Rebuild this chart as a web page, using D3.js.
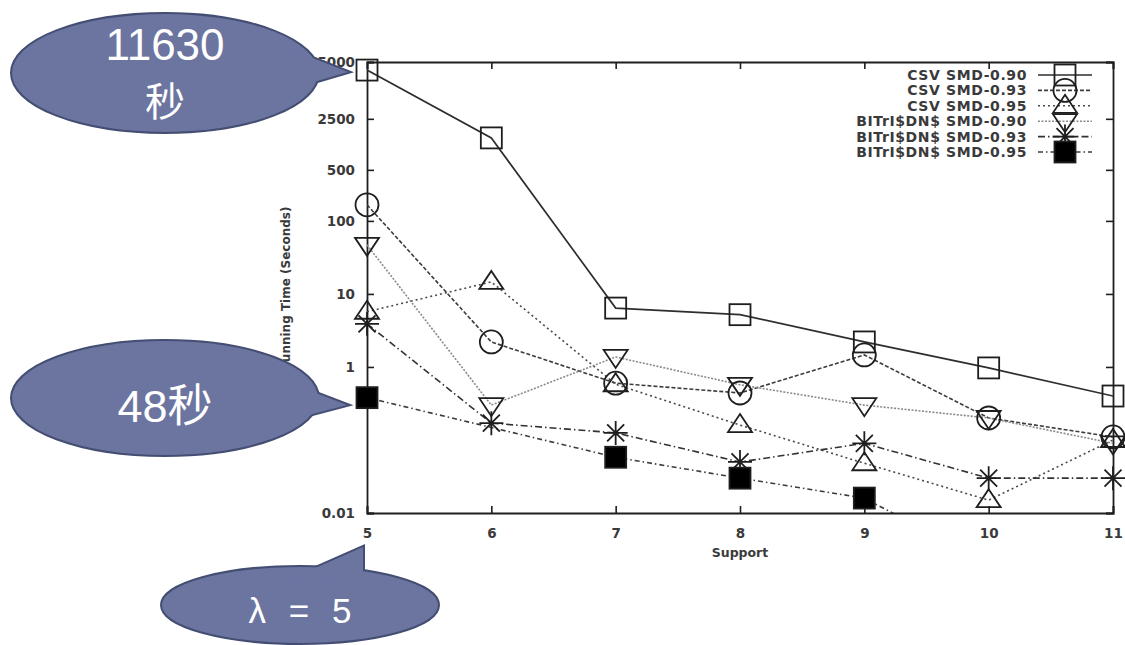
<!DOCTYPE html>
<html>
<head>
<meta charset="utf-8">
<script src="https://cdn.jsdelivr.net/npm/d3@7/dist/d3.min.js"></script>
<style>
  html, body { margin: 0; padding: 0; background: #fff; }
  svg { display: block; }
  .tick-label { font-family: "DejaVu Sans", sans-serif; font-weight: bold; font-size: 13.5px; fill: #3a3a3a; }
  .legend-label { font-family: "DejaVu Sans", sans-serif; font-weight: bold; font-size: 14px; fill: #3a3a3a; }
  .callout-text { font-family: "Liberation Sans", "Noto Sans CJK SC", sans-serif; fill: #fff; }
</style>
</head>
<body>
<svg id="chart" width="1125" height="645"></svg>
<script>
// Support thresholds on the x axis
const supports = [5, 6, 7, 8, 9, 10, 11];

// Running time (seconds) per support value; null = no measurement
const csvSmd090 = [11630, 1370, 6.4, 5.2, 2.2, 0.97, 0.40];
const csvSmd093 = [166, 2.2, 0.60, 0.44, 1.46, 0.20, 0.11];
const csvSmd095 = [5.7, 14.6, 0.58, 0.16, 0.048, 0.015, 0.10];
const bitSmd090 = [47, 0.30, 1.37, 0.57, 0.30, 0.20, 0.09];
const bitSmd093 = [3.9, 0.17, 0.125, 0.05, 0.09, 0.030, 0.030];
const bitSmd095 = [0.38, null, 0.058, 0.030, 0.016, 0.002, null];

const seriesNames = [
  "CSV SMD-0.90", "CSV SMD-0.93", "CSV SMD-0.95",
  "BITrI$DN$ SMD-0.90", "BITrI$DN$ SMD-0.93", "BITrI$DN$ SMD-0.95"
];

// Axis tick values and their labels
const yTickValues = [0.01, 1, 10, 100, 500, 2500, 15000];
const yTickLabels = ["0.01", "1", "10", "100", "500", "2500", "15000"];
const xTickValues = [5, 6, 7, 8, 9, 10, 11];

// Callout bubbles drawn over the chart
const calloutTexts = [["11630", "秒"], ["48秒"], ["λ = 5"]];

const series = [
  { name: seriesNames[0], values: csvSmd090, marker: "square",  dash: null,            color: "#2e2e2e", width: 1.7 },
  { name: seriesNames[1], values: csvSmd093, marker: "circle",  dash: "4,2",           color: "#3c3c3c", width: 1.6 },
  { name: seriesNames[2], values: csvSmd095, marker: "triUp",   dash: "2,3",           color: "#4a4a4a", width: 1.6 },
  { name: seriesNames[3], values: bitSmd090, marker: "triDown", dash: "2,1.5",         color: "#8a8a8a", width: 1.6 },
  { name: seriesNames[4], values: bitSmd093, marker: "star",    dash: "7,3,1.5,3",     color: "#333333", width: 1.6 },
  { name: seriesNames[5], values: bitSmd095, marker: "fsquare", dash: "5,3,1.5,3",     color: "#3c3c3c", width: 1.6 }
];

const svg = d3.select("#chart");
const plot = { left: 367, right: 1113, top: 62, bottom: 513 };

const x = d3.scaleLinear().domain([5, 11]).range([plot.left, plot.right]);
const y = d3.scaleLog().domain([0.01, 15000]).range([plot.bottom, plot.top]);

svg.append("defs").append("clipPath").attr("id", "plot-clip")
  .append("rect")
  .attr("x", plot.left).attr("y", plot.top)
  .attr("width", plot.right - plot.left).attr("height", plot.bottom - plot.top);

// Axes with inward ticks on all four sides (gnuplot style)
const tickLen = 7;
const axisColor = "#1e1e1e";

const axisLeftG = svg.append("g").attr("transform", `translate(${plot.left},0)`)
  .call(d3.axisLeft(y).tickValues(yTickValues).tickSize(-tickLen).tickPadding(12)
    .tickFormat((d, i) => yTickLabels[i]));
const axisRightG = svg.append("g").attr("transform", `translate(${plot.right},0)`)
  .call(d3.axisRight(y).tickValues(yTickValues).tickSize(-tickLen).tickFormat(""));
const axisBottomG = svg.append("g").attr("transform", `translate(0,${plot.bottom})`)
  .call(d3.axisBottom(x).tickValues(xTickValues).tickSize(-tickLen).tickPadding(15)
    .tickFormat(d3.format("d")));
const axisTopG = svg.append("g").attr("transform", `translate(0,${plot.top})`)
  .call(d3.axisTop(x).tickValues(xTickValues).tickSize(-tickLen).tickFormat(""));

[axisLeftG, axisRightG, axisBottomG, axisTopG].forEach(g => {
  g.select(".domain").attr("stroke", axisColor).attr("stroke-width", 1.8);
  g.selectAll(".tick line").attr("stroke", axisColor).attr("stroke-width", 1.6);
  g.selectAll(".tick text").attr("class", "tick-label").attr("fill", null);
});
axisLeftG.selectAll(".tick text").attr("dy", "0.36em");

// Axis titles
svg.append("text").attr("class", "tick-label")
  .attr("x", (plot.left + plot.right) / 2).attr("y", 557)
  .attr("text-anchor", "middle").style("font-size", "12.5px")
  .text("Support");
svg.append("text").attr("class", "tick-label")
  .attr("transform", "translate(290,289) rotate(-90)")
  .attr("text-anchor", "middle").style("font-size", "12px")
  .text("Running Time (Seconds)");

// Marker glyphs
function drawMarker(g, type, cx, cy) {
  const stroke = "#1e1e1e";
  const sw = 1.8;
  const m = g.append("g").attr("transform", `translate(${cx},${cy})`);
  if (type === "square" || type === "fsquare") {
    m.append("rect").attr("x", -10.5).attr("y", -10.5).attr("width", 21).attr("height", 21)
      .attr("fill", type === "fsquare" ? "#000" : "none")
      .attr("stroke", stroke).attr("stroke-width", sw);
  } else if (type === "circle") {
    m.append("circle").attr("r", 11.5).attr("fill", "none")
      .attr("stroke", stroke).attr("stroke-width", sw);
  } else if (type === "triUp") {
    m.append("path").attr("d", "M0,-11L12,7L-12,7Z").attr("fill", "none")
      .attr("stroke", stroke).attr("stroke-width", sw);
  } else if (type === "triDown") {
    m.append("path").attr("d", "M-12,-7L12,-7L0,11Z").attr("fill", "none")
      .attr("stroke", stroke).attr("stroke-width", sw);
  } else if (type === "star") {
    m.append("path").attr("d", "M-12,0H12M0,-12V12M-8.5,-8.5L8.5,8.5M-8.5,8.5L8.5,-8.5")
      .attr("fill", "none").attr("stroke", stroke).attr("stroke-width", sw);
  }
}

const lineGen = d3.line()
  .defined(d => d.v !== null)
  .x(d => x(d.s))
  .y(d => y(d.v));

const linesG = svg.append("g").attr("clip-path", "url(#plot-clip)");
const markersG = svg.append("g");

series.forEach(sr => {
  const pts = supports.map((s, i) => ({ s, v: sr.values[i] }));
  const defined = pts.filter(p => p.v !== null);
  linesG.append("path")
    .datum(defined)
    .attr("d", lineGen)
    .attr("fill", "none")
    .attr("stroke", sr.color)
    .attr("stroke-width", sr.width)
    .attr("stroke-dasharray", sr.dash);
  defined.filter(p => p.v >= y.domain()[0]).forEach(p => {
    drawMarker(markersG, sr.marker, x(p.s), y(p.v));
  });
});

// Legend (top right, inside plot)
const legend = svg.append("g");
const legendRow0 = 75, legendStep = 15.4;
series.forEach((sr, i) => {
  const ly = legendRow0 + i * legendStep;
  legend.append("text").attr("class", "legend-label")
    .attr("x", 1027).attr("y", ly).attr("dy", "0.36em")
    .attr("text-anchor", "end").style("letter-spacing", "0.6px")
    .text(sr.name);
  legend.append("line")
    .attr("x1", 1038).attr("x2", 1092).attr("y1", ly).attr("y2", ly)
    .attr("stroke", sr.color).attr("stroke-width", sr.width)
    .attr("stroke-dasharray", sr.dash);
  drawMarker(legend, sr.marker, 1065, ly);
});

// Speech-bubble callouts: ellipse + pointer, outlined as a single shape
const bubbleFill = "#6b75a0";
const bubbleStroke = "#444e72";
const bubbles = [
  { cx: 165, cy: 73,  rx: 153, ry: 59, tail: [[290, 49], [348, 72], [290, 89]],
    lines: [{ t: calloutTexts[0][0], y: 60, size: 44, ws: 0 }, { t: calloutTexts[0][1], y: 116, size: 40, ws: 0 }] },
  { cx: 165, cy: 398, rx: 153, ry: 57, tail: [[290, 383], [347, 405], [290, 420]],
    lines: [{ t: calloutTexts[1][0], y: 422, size: 45, ws: 0 }] },
  { cx: 300, cy: 605, rx: 138, ry: 38, tail: [[295, 577], [363, 547], [363, 585]],
    lines: [{ t: calloutTexts[2][0], y: 623, size: 35, ws: 13 }] }
];

const bubbleG = svg.append("g");
bubbles.forEach(b => {
  const g = bubbleG.append("g");
  const tailPath = "M" + b.tail.map(p => p.join(",")).join("L") + "Z";
  // outline pass
  g.append("path").attr("d", tailPath).attr("fill", bubbleFill)
    .attr("stroke", bubbleStroke).attr("stroke-width", 4).attr("stroke-linejoin", "miter");
  g.append("ellipse").attr("cx", b.cx).attr("cy", b.cy).attr("rx", b.rx).attr("ry", b.ry)
    .attr("fill", bubbleFill).attr("stroke", bubbleStroke).attr("stroke-width", 4);
  // fill pass hides the inner seams
  g.append("ellipse").attr("cx", b.cx).attr("cy", b.cy).attr("rx", b.rx).attr("ry", b.ry)
    .attr("fill", bubbleFill);
  g.append("path").attr("d", tailPath).attr("fill", bubbleFill);
  b.lines.forEach(l => {
    g.append("text").attr("class", "callout-text")
      .attr("x", b.cx).attr("y", l.y).attr("text-anchor", "middle")
      .style("font-size", l.size + "px").style("word-spacing", l.ws + "px").text(l.t);
  });
});
</script>
</body>
</html>
